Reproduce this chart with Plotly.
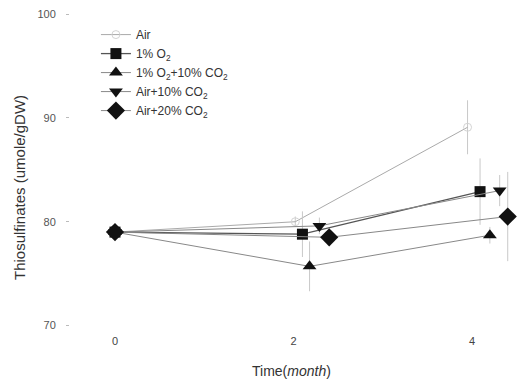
import plotly.graph_objects as go

# ---- data ----
series_names = ["Air", "1% O<sub>2</sub>", "1% O<sub>2</sub>+10% CO<sub>2</sub>",
                "Air+10% CO<sub>2</sub>", "Air+20% CO<sub>2</sub>"]

# time (months) — points slightly staggered horizontally as in the original
t_air = [0, 2.02, 3.95]
t_o2 = [0, 2.10, 4.09]
t_o2co2 = [0, 2.18, 4.20]
t_air10 = [0, 2.29, 4.31]
t_air20 = [0, 2.40, 4.40]

y_air = [79.0, 80.0, 89.1]
y_o2 = [79.0, 78.8, 82.9]
y_o2co2 = [79.0, 75.7, 78.7]
y_air10 = [79.0, 79.6, 83.0]
y_air20 = [79.0, 78.5, 80.5]

e_air = [0, 0.5, 2.6]
e_o2 = [0, 2.2, 3.2]
e_o2co2 = [0, 2.4, 0.8]
e_air10 = [0, 0.8, 1.5]
e_air20 = [0, 0.6, 4.3]

x_ticks = [0, 2, 4]
y_ticks = [70, 80, 90, 100]

# ---- styles ----
styles = [
    dict(symbol="circle-open", size=8, mcolor="#d4d4d4", lcolor="#aaaaaa", lw=1),
    dict(symbol="square", size=11, mcolor="#111111", lcolor="#555555", lw=1.3),
    dict(symbol="triangle-up", size=12, mcolor="#111111", lcolor="#888888", lw=1),
    dict(symbol="triangle-down", size=12, mcolor="#111111", lcolor="#888888", lw=1),
    dict(symbol="diamond", size=14, mcolor="#111111", lcolor="#888888", lw=1),
]

xs = [t_air, t_o2, t_o2co2, t_air10, t_air20]
ys = [y_air, y_o2, y_o2co2, y_air10, y_air20]
es = [e_air, e_o2, e_o2co2, e_air10, e_air20]

fig = go.Figure()
for name, x, y, e, s in zip(series_names, xs, ys, es, styles):
    fig.add_trace(go.Scatter(
        x=x, y=y, name=name, mode="lines+markers",
        line=dict(color=s["lcolor"], width=s["lw"]),
        marker=dict(symbol=s["symbol"], size=s["size"], color=s["mcolor"],
                    line=dict(color=s["mcolor"], width=1 if "open" in s["symbol"] else 0)),
        error_y=dict(type="data", array=e, visible=True, color="#c8c8c8",
                     thickness=1, width=0),
        cliponaxis=False,
    ))

fig.update_layout(
    width=517, height=380,
    margin=dict(l=70, r=0, t=5, b=47),
    paper_bgcolor="white", plot_bgcolor="white",
    font=dict(family="Liberation Sans, Arial, sans-serif", size=11, color="#555555"),
    showlegend=True,
    legend=dict(x=0.058, y=0.954, xanchor="left", yanchor="top",
                bgcolor="rgba(0,0,0,0)", font=dict(size=12, color="#333333"),
                itemwidth=30, tracegroupgap=0),
    xaxis=dict(range=[-0.504, 4.504], tickvals=x_ticks, ticktext=[str(v) for v in x_ticks],
               showgrid=False, zeroline=False, showline=False,
               ticks="", tickfont=dict(size=11, color="#444444")),
    yaxis=dict(range=[69.28, 100.88], tickvals=y_ticks, ticktext=[str(v) for v in y_ticks],
               showgrid=False, zeroline=False, showline=False,
               ticks="outside", ticklen=3, tickcolor="#bbbbbb",
               ticklabelstandoff=8, tickfont=dict(size=11, color="#555555")),
    annotations=[
        dict(text="Thiosulfinates (umole/gDW)", xref="paper", yref="paper",
             x=(20 - 70) / 447, y=(333 - 188) / 328, xanchor="center", yanchor="middle",
             textangle=-90, showarrow=False, font=dict(size=15, color="#333333")),
        dict(text="Time(<i>month</i>)", xref="paper", yref="paper",
             x=(291 - 70) / 447, y=(333 - 371) / 328, xanchor="center", yanchor="middle",
             showarrow=False, font=dict(size=14, color="#333333")),
    ],
)

fig.write_html("out.html")
